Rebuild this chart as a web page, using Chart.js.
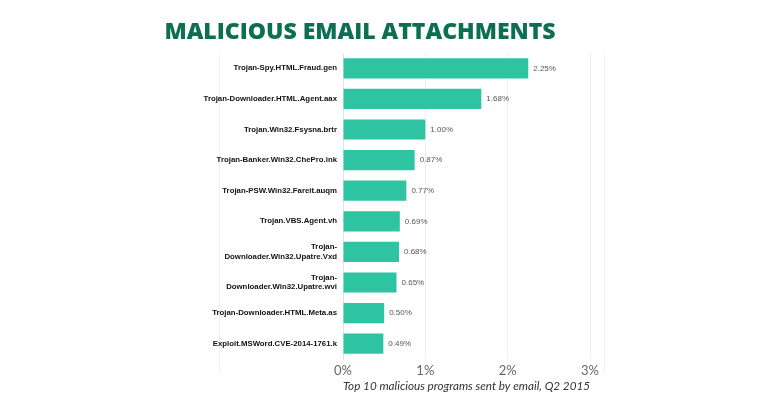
<!DOCTYPE html>
<html>
<head>
<meta charset="utf-8">
<script src="https://cdn.jsdelivr.net/npm/chart.js@4.4.1/dist/chart.umd.min.js"></script>
<style>
    html, body { margin: 0; padding: 0; background: #fff; }
    #wrap { position: relative; width: 780px; height: 405px; }
    #frame { position: absolute; left: 219px; top: 55px; width: 384px; height: 318px; border-left: 1px solid #f0f0f0; border-right: 1px solid #f0f0f0; }
    #title { position: absolute; left: 0; top: 19px; width: 720px; text-align: center; line-height: 23px;
             font-family: 'Open Sans', sans-serif; font-size: 23px; font-weight: 800; color: #0d6f51;
             opacity: 0.999; will-change: transform; }
    canvas { position: absolute; left: 0; top: 0; }
</style>
</head>
<body>
<div id="wrap">
    <div id="frame"></div>
    <div id="title">MALICIOUS EMAIL ATTACHMENTS</div>
    <canvas id="attachChart" width="780" height="405"></canvas>
</div>
<script>
const programs = [
    "Trojan-Spy.HTML.Fraud.gen",
    "Trojan-Downloader.HTML.Agent.aax",
    "Trojan.Win32.Fsysna.brtr",
    "Trojan-Banker.Win32.ChePro.ink",
    "Trojan-PSW.Win32.Fareit.auqm",
    "Trojan.VBS.Agent.vh",
    ["Trojan-", "Downloader.Win32.Upatre.Vxd"],
    ["Trojan-", "Downloader.Win32.Upatre.wvi"],
    "Trojan-Downloader.HTML.Meta.as",
    "Exploit.MSWord.CVE-2014-1761.k"
];
const shares = [2.25, 1.68, 1.00, 0.87, 0.77, 0.69, 0.68, 0.65, 0.50, 0.49];
const xTicks = ["0%", "1%", "2%", "3%"];

const valueLabels = {
    id: "valueLabels",
    afterDatasetsDraw(chart) {
        const ctx = chart.ctx;
        const meta = chart.getDatasetMeta(0);
        ctx.save();
        ctx.font = "8px 'Liberation Sans'";
        ctx.fillStyle = "#555";
        ctx.textAlign = "left";
        ctx.textBaseline = "middle";
        meta.data.forEach((bar, i) => {
            ctx.fillText(shares[i].toFixed(2) + "%", bar.x + 5, bar.y);
        });
        ctx.restore();
    }
};

new Chart(document.getElementById("attachChart"), {
    type: "bar",
    data: {
        labels: programs,
        datasets: [{
            data: shares,
            backgroundColor: "#2ec4a2",
            borderWidth: 0,
            categoryPercentage: 0.66,
            barPercentage: 1
        }]
    },
    plugins: [valueLabels],
    options: {
        indexAxis: "y",
        responsive: false,
        animation: false,
        layout: { padding: { left: 0, right: 190, top: 53, bottom: 12 } },
        plugins: {
            legend: { display: false },
            tooltip: { enabled: false },
            title: { display: false }
        },
        scales: {
            x: {
                min: 0,
                max: 3,
                ticks: {
                    stepSize: 1,
                    color: "#666",
                    font: { family: "Lato", size: 13 },
                    padding: 4,
                    callback: (v) => xTicks[v]
                },
                grid: { color: "#efefef", drawTicks: false },
                border: { display: false },
                title: {
                    display: true,
                    text: "Top 10 malicious programs sent by email, Q2 2015",
                    color: "#333",
                    font: { family: "Lato", size: 12, style: "italic" },
                    padding: { top: -4, bottom: 0 }
                }
            },
            y: {
                afterFit(scale) { scale.width = 343; },
                ticks: {
                    color: "#111",
                    font: { family: "'Liberation Sans'", size: 7.8, weight: "bold" },
                    padding: 6
                },
                grid: { display: false, drawTicks: false },
                border: { display: true, color: "#e4e4e4" }
            }
        }
    }
});
</script>
</body>
</html>
